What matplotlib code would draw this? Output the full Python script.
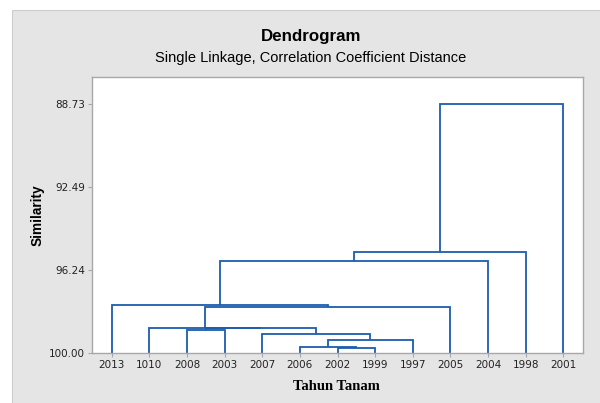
import matplotlib
matplotlib.use('Agg')
import matplotlib.pyplot as plt
from matplotlib.patches import Rectangle

# leaves in display order
leaves = ['2013', '1010', '2008', '2003', '2007', '2006', '2002',
          '1999', '1997', '2005', '2004', '1998', '2001']

# merges: (left cluster id, right cluster id, similarity); new ids start at len(leaves)
merge_left = [6, 5, 14, 4, 2, 17, 1, 19, 0, 21, 22, 23]
merge_right = [7, 13, 8, 15, 3, 16, 18, 9, 20, 10, 11, 12]
merge_sim = [99.79, 99.74, 99.39, 99.15, 98.95, 98.89, 98.85,
             97.90, 97.85, 95.83, 95.45, 88.73]

y_ticks = [88.73, 92.49, 96.24, 100.00]

LINE = '#1C5DAD'
GRID_GRAY = '#A8A8A8'

fig = plt.figure(figsize=(6.0, 4.03), dpi=100)
fig.patch.set_facecolor('white')

# gray chart background (Minitab style) drawn on its own bottom axes
bg = fig.add_axes([0, 0, 1, 1], zorder=-10)
bg.set_axis_off()
bg.add_patch(Rectangle((12 / 600, -0.01), 1, 1 - 10 / 403 + 0.01, transform=bg.transAxes,
                       facecolor='#E5E5E5', edgecolor='#CDCDCD', lw=0.8))

ax = fig.add_axes([92 / 600, 50 / 403, 491 / 600, 276 / 403])
ax.set_facecolor('white')

# cluster positions / heights
pos = {i: float(i) for i in range(len(leaves))}
hgt = {i: 100.0 for i in range(len(leaves))}
for k, (a, b, s) in enumerate(zip(merge_left, merge_right, merge_sim)):
    cid = len(leaves) + k
    xa, xb = pos[a], pos[b]
    ax.plot([xa, xa, xb, xb], [hgt[a], s, s, hgt[b]], color=LINE, lw=1.3,
            solid_joinstyle='miter', solid_capstyle='butt')
    pos[cid] = (xa + xb) / 2
    hgt[cid] = s

ax.set_xlim(-0.52, len(leaves) - 1 + 0.52)
ax.set_ylim(100, 87.51)
ax.set_xticks(range(len(leaves)))
ax.set_xticklabels(leaves)
ax.set_yticks(y_ticks)
ax.set_yticklabels([f'{v:.2f}' for v in y_ticks])
ax.tick_params(axis='both', direction='out', length=3, width=0.8, color=GRID_GRAY,
               labelsize=7.5, labelcolor='#222222', pad=2)
for sp in ax.spines.values():
    sp.set_color(GRID_GRAY)
    sp.set_linewidth(1.0)

fig.text(311 / 600, 1 - 37 / 403, 'Dendrogram', ha='center', va='center',
         fontsize=12.2, fontweight='bold', family='Liberation Sans')
fig.text(311 / 600, 1 - 58 / 403, 'Single Linkage, Correlation Coefficient Distance',
         ha='center', va='center', fontsize=10.5, family='Liberation Sans')
fig.text(336 / 600, 1 - 386 / 403, 'Tahun Tanam', ha='center', va='center',
         fontsize=10.5, fontweight='bold', family='Liberation Serif')
fig.text(38 / 600, 1 - 215 / 403, 'Similarity', ha='center', va='center', rotation=90,
         fontsize=9.8, fontweight='bold', family='Liberation Sans')

fig.savefig('out.png', dpi=100)
